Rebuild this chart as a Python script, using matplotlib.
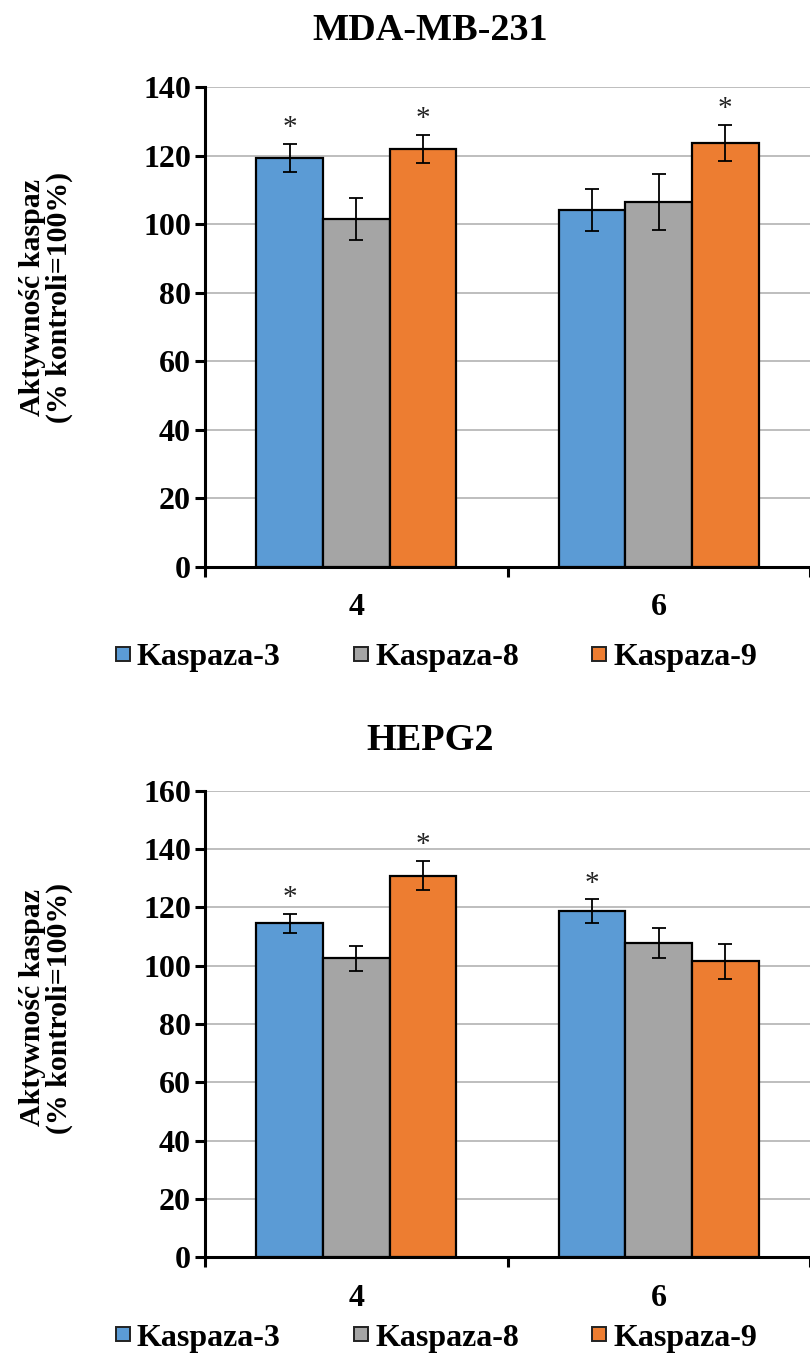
import numpy as np
import matplotlib
matplotlib.use('Agg')
import matplotlib.pyplot as plt
from matplotlib.lines import Line2D

plt.rcParams.update({
    "font.family": "Liberation Serif",
    "font.weight": "bold",
})

# ---- data ----
categories = ['4', '6']
series = ['Kaspaza-3', 'Kaspaza-8', 'Kaspaza-9']
colors = ['#5B9BD5', '#A5A5A5', '#ED7D31']

# MDA-MB-231
mda_vals = [[119.4, 104.1], [101.5, 106.4], [121.9, 123.7]]
mda_err = [[4.1, 6.1], [6.0, 8.2], [4.2, 5.2]]
mda_star = [[True, False], [False, False], [True, True]]

# HEPG2
hep_vals = [[114.5, 118.6], [102.6, 107.8], [130.9, 101.6]]
hep_err = [[3.3, 4.1], [4.3, 5.0], [5.1, 6.0]]
hep_star = [[True, True], [False, False], [True, False]]

W, H = 810, 1365
fig = plt.figure(figsize=(W / 100, H / 100), dpi=100)

panels = [
    dict(title='MDA-MB-231', vals=mda_vals, err=mda_err, star=mda_star,
         box=(205, 87, 810, 567), ymax=140, xlim=(-0.5, 1.4675),
         title_y=31, ylab_y=297, leg_y=657),
    dict(title='HEPG2', vals=hep_vals, err=hep_err, star=hep_star,
         box=(205, 790.7, 810, 1257.4), ymax=160, xlim=(-0.5, 1.49),
         title_y=741, ylab_y=1008, leg_y=1338),
]

bw = 0.22
x = np.arange(len(categories))

for p in panels:
    l, t, r, b = p['box']
    ax = fig.add_axes([l / W, 1 - b / H, (r - l) / W, (b - t) / H])
    for k in range(3):
        xs = x + (k - 1) * bw
        ax.bar(xs, p['vals'][k], width=bw, color=colors[k],
               edgecolor='black', linewidth=1.6, zorder=3)
        ax.errorbar(xs, p['vals'][k], yerr=p['err'][k], fmt='none',
                    ecolor='black', elinewidth=1.3, capsize=5, capthick=1.3,
                    zorder=4)
        for j in range(len(categories)):
            if p['star'][k][j]:
                ax.annotate('*', (xs[j], p['vals'][k][j] + p['err'][k][j]),
                            xytext=(0, 2), textcoords='offset points',
                            ha='center', va='bottom', fontsize=21,
                            fontweight='normal', color='#222222')
    ax.set_ylim(0, p['ymax'])
    ax.set_xlim(p['xlim'])
    ax.set_yticks(np.arange(0, p['ymax'] + 1, 20))
    ax.yaxis.grid(True, color='#b3b3b3', linewidth=1.2, zorder=0)
    ax.set_axisbelow(True)
    for s in ['top', 'right']:
        ax.spines[s].set_visible(False)
    for s in ['left', 'bottom']:
        ax.spines[s].set_linewidth(2.2)
    ax.tick_params(axis='y', direction='out', length=7, width=2.2,
                   labelsize=23, pad=3)
    # separator ticks on the x axis, category labels in between
    ax.set_xticks([-0.5, 0.5, 1.5])
    ax.set_xticklabels([])
    ax.set_xticks(x, minor=True)
    ax.set_xticklabels(categories, minor=True)
    ax.tick_params(axis='x', which='major', direction='out', length=7,
                   width=2.2)
    ax.tick_params(axis='x', which='minor', length=0, labelsize=23, pad=19)
    for lab in ax.get_yticklabels() + ax.get_xticklabels(minor=True):
        lab.set_fontweight('bold')

    fig.text(430 / W, 1 - p['title_y'] / H, p['title'], ha='center',
             va='center', fontsize=27.5, fontweight='bold')
    fig.text(46 / W, 1 - p['ylab_y'] / H,
             'Aktywność kaspaz\n(% kontroli=100%)', rotation=90,
             ha='center', va='center', fontsize=21.5, fontweight='bold',
             linespacing=0.95)

    handles = [Line2D([], [], marker='s', linestyle='none', markersize=10,
                      markerfacecolor=c, markeredgecolor='#222222',
                      markeredgewidth=1.4) for c in colors]
    fig.legend(handles, series, loc='center', ncol=3,
               bbox_to_anchor=(435 / W, 1 - p['leg_y'] / H), frameon=False,
               prop=dict(size=23, weight='bold'), handlelength=0.6,
               handletextpad=0.15, columnspacing=2.2)

fig.savefig('out.png', dpi=100)
